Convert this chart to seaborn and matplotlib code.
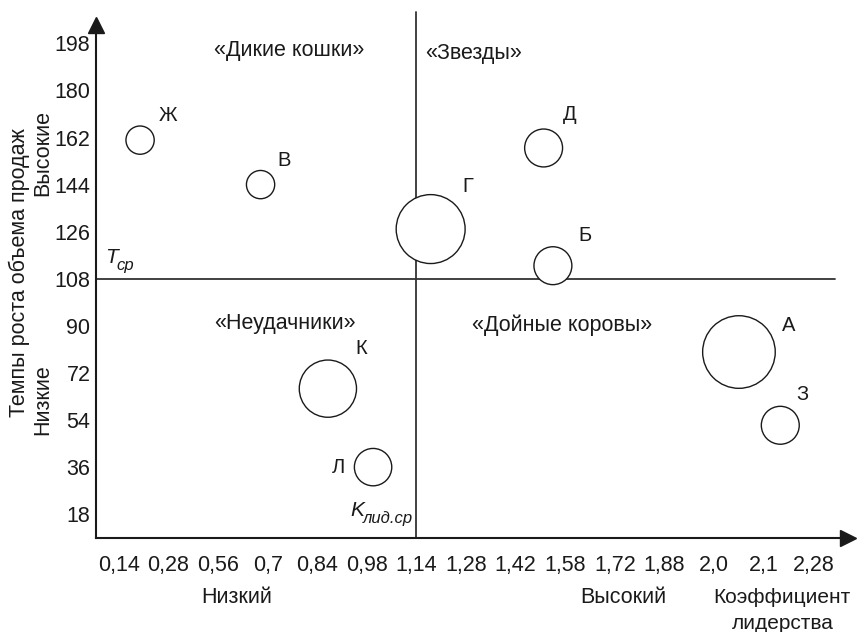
import matplotlib
matplotlib.use("Agg")
import matplotlib.pyplot as plt
import numpy as np
import pandas as pd
import seaborn as sns

# leadership coefficient tick values (axis is not linear in them)
tick_vals = [0.14, 0.28, 0.56, 0.7, 0.84, 0.98, 1.14, 1.28, 1.42, 1.58, 1.72, 1.88, 2.0, 2.1, 2.28]
tick_labels = ["0,14", "0,28", "0,56", "0,7", "0,84", "0,98", "1,14", "1,28",
               "1,42", "1,58", "1,72", "1,88", "2,0", "2,1", "2,28"]
y_ticks = [18, 36, 54, 72, 90, 108, 126, 144, 162, 180, 198]

# business units
units = ["Ж", "В", "Г", "Д", "Б", "К", "Л", "А", "З"]
leadership = [0.20, 0.68, 1.18, 1.51, 1.54, 0.87, 1.00, 2.05, 2.16]
growth = [161, 144, 127, 158, 113, 66, 36, 80, 52]
sales = [2.0, 2.0, 11.9, 3.6, 3.6, 8.2, 3.5, 13.2, 3.6]

k_avg = 1.14
t_avg = 108

quadrants = ["«Дикие кошки»", "«Звезды»", "«Неудачники»", "«Дойные коровы»"]
quad_x = [0.76, 1.30, 0.75, 1.57]
quad_y = [195.4, 194.3, 90.8, 90.4]

df = pd.DataFrame({"unit": units, "k": leadership, "t": growth, "sales": sales})

# piecewise-linear axis: evenly spaced ticks carrying the labelled values
_vals = np.array([0.0] + tick_vals + [2.64])
_pos = np.arange(-1, len(tick_vals) + 1, dtype=float)


def forward(x):
    return np.interp(x, _vals, _pos)


def inverse(p):
    return np.interp(p, _pos, _vals)


sns.set_theme(style="white")
plt.rcParams["font.family"] = ["Liberation Sans", "DejaVu Sans"]
INK = "#1a1a1a"
FS = 15.5

fig = plt.figure(figsize=(8.61, 6.32), dpi=100)
ax = fig.add_axes([0.1115, 0.1487, 0.8735, 0.8117])

ax.set_xscale("function", functions=(forward, inverse))
ax.set_xlim(inverse(-0.46), inverse(14.7))
ax.set_ylim(8.9, 205)

ax.axhline(t_avg, xmax=0.983, color="#333333", lw=1.3)
ax.axvline(k_avg, ymax=1.025, color="#333333", lw=1.3, clip_on=False)

smax = max(sales)
sns.scatterplot(
    data=df, x="k", y="t", size="sales", sizes=(0, 207 * smax), size_norm=(0, smax),
    facecolor="white", edgecolor=INK, linewidth=1.0, legend=False, ax=ax, zorder=3,
)
ax.set_xlabel("")
ax.set_ylabel("")

label_offsets = {"Ж": (20, 18), "В": (17, 17), "Г": (27, 31), "Д": (19, 24), "Б": (23, 22),
                 "К": (24, 29), "Л": (-25, 0), "А": (36, 19), "З": (16, 22)}
for u, kx, ty in zip(units, leadership, growth):
    ax.annotate(u, (kx, ty), xytext=label_offsets[u], textcoords="offset points",
                ha="center", va="center", fontsize=14.5, color=INK)

for q, qx, qy in zip(quadrants, quad_x, quad_y):
    ax.text(qx, qy, q, ha="center", va="center", fontsize=FS, color=INK)

ax.set_xticks(tick_vals)
ax.set_xticklabels(tick_labels)
ax.set_yticks(y_ticks)
ax.tick_params(axis="both", direction="in", length=9, width=1.3, color=INK,
               labelsize=FS, labelcolor=INK)
ax.tick_params(axis="x", pad=12)
ax.tick_params(axis="y", pad=4)

for side in ["top", "right"]:
    ax.spines[side].set_visible(False)
for side in ["left", "bottom"]:
    ax.spines[side].set_color(INK)
    ax.spines[side].set_linewidth(1.5)

# axis arrows
ax.plot(1.0, 0, marker=">", ms=12, color=INK, transform=ax.transAxes, clip_on=False)
ax.plot(0, 1.0, marker="^", ms=12, color=INK, transform=ax.transAxes, clip_on=False)

# average markers
ax.text(0.10, 116, "T", style="italic", fontsize=15, ha="left", va="center", color=INK)
ax.text(0.133, 113, "ср", style="italic", fontsize=12, ha="left", va="center", color=INK)
ax.text(0.932, 19.3, "K", style="italic", fontsize=15, ha="left", va="center", color=INK)
ax.text(0.968, 16.4, "лид.ср", style="italic", fontsize=12, ha="left", va="center", color=INK)

# axis captions
fig.text(0.023, 0.568, "Темпы роста объема продаж", rotation=90, ha="center", va="center",
         fontsize=FS, color=INK)
fig.text(0.05, 0.758, "Высокие", rotation=90, ha="center", va="center", fontsize=FS, color=INK)
fig.text(0.05, 0.367, "Низкие", rotation=90, ha="center", va="center", fontsize=FS, color=INK)
fig.text(0.275, 0.054, "Низкий", ha="center", va="center", fontsize=FS, color=INK)
fig.text(0.724, 0.054, "Высокий", ha="center", va="center", fontsize=FS, color=INK)
fig.text(0.908, 0.054, "Коэффициент", ha="center", va="center", fontsize=15, color=INK)
fig.text(0.909, 0.014, "лидерства", ha="center", va="center", fontsize=15, color=INK)

fig.savefig("out.png", dpi=100)
